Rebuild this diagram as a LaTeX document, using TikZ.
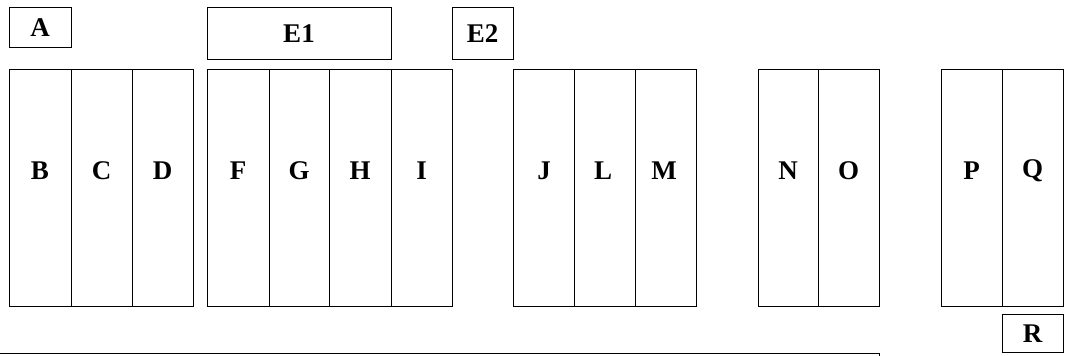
\documentclass[tikz,border=0pt]{standalone}
\usepackage{fontspec}
\setmainfont{Liberation Serif}
\begin{document}
\begin{tikzpicture}[x=1pt,y=-1pt,line width=1pt]
	\tikzstyle{every node}+=[inner sep=0pt,font=\fontsize{27}{30}\selectfont\bfseries]
	\useasboundingbox (0,0) rectangle (1066,356);
	\clip (0,0) rectangle (1066,356);
	% top boxes
	\draw [black] (9,7) rectangle (71,47);
	\draw (40,28) node (A) {A};
	\draw [black] (207,7) rectangle (391,59);
	\draw (299,34) node (E1) {E1};
	\draw [black] (452,7) rectangle (513,59);
	\draw (482.5,34) node (E2) {E2};
	% first block
	\draw [black] (9,69.5) rectangle (71,306.5);
	\draw (40,171) node (B) {B};
	\draw [black] (71,69.5) rectangle (132,306.5);
	\draw (101.5,171) node (C) {C};
	\draw [black] (132,69.5) rectangle (193,306.5);
	\draw (162.5,171) node (D) {D};
	% second block
	\draw [black] (207,69.5) rectangle (269,306.5);
	\draw (238,171) node (F) {F};
	\draw [black] (269,69.5) rectangle (329,306.5);
	\draw (299,171) node (G) {G};
	\draw [black] (329,69.5) rectangle (391,306.5);
	\draw (360,171) node (H) {H};
	\draw [black] (391,69.5) rectangle (452,306.5);
	\draw (421.5,171) node (I) {I};
	% third block
	\draw [black] (513,69.5) rectangle (574,306.5);
	\draw (544,171) node (J) {J};
	\draw [black] (574,69.5) rectangle (635,306.5);
	\draw (603,171) node (L) {L};
	\draw [black] (635,69.5) rectangle (696,306.5);
	\draw (664,171) node (M) {M};
	% fourth block
	\draw [black] (758,69.5) rectangle (818,306.5);
	\draw (788,171) node (N) {N};
	\draw [black] (818,69.5) rectangle (879,306.5);
	\draw (848.5,171) node (O) {O};
	% fifth block
	\draw [black] (941,69.5) rectangle (1002,306.5);
	\draw (971.5,171) node (P) {P};
	\draw [black] (1002,69.5) rectangle (1063,306.5);
	\draw (1032.5,171) node (Q) {Q};
	\draw [black] (1002,314) rectangle (1063,352);
	\draw (1032.5,334) node (R) {R};
	% bottom box, cut off
	\draw [black] (-10,353) rectangle (879,400);
\end{tikzpicture}
\end{document}
